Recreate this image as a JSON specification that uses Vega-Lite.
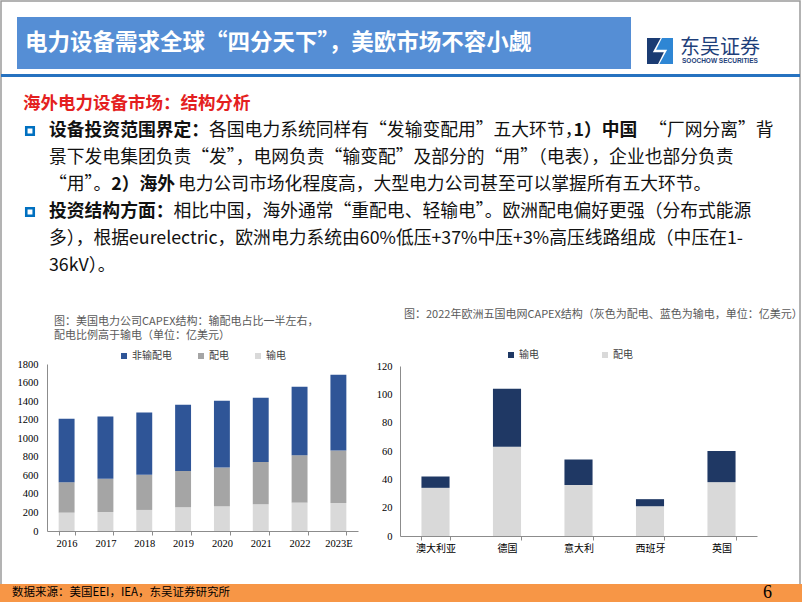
{
  "$schema": "https://vega.github.io/schema/vega-lite/v6.json",
  "width": 802,
  "height": 602,
  "autosize": {"type": "none"},
  "padding": 0,
  "background": "white",
  "config": {
    "view": {"stroke": null},
    "font": "Noto Sans CJK SC",
    "axis": {"grid": false}
  },
  "resolve": {
    "scale": {"x": "independent", "y": "independent", "color": "independent"},
    "axis": {"x": "independent", "y": "independent"},
    "legend": {"color": "independent"}
  },
  "layer": [
    {
      "data": {"values": [{"块": "页框"}]},
      "mark": {"type": "rect", "filled": false, "stroke": "#9A9A9A", "strokeWidth": 1.5},
      "encoding": {
        "x": {"field": "块", "type": "nominal", "scale": {"type": "band", "range": [1, 800], "paddingInner": 0, "paddingOuter": 0}, "axis": null},
        "y": {"field": "块", "type": "nominal", "scale": {"type": "band", "range": [1, 610], "paddingInner": 0, "paddingOuter": 0}, "axis": null}
      }
    },
    {
      "data": {"values": [{"块": "标题栏"}]},
      "mark": {"type": "rect", "color": "#558ED5"},
      "encoding": {
        "x": {"field": "块", "type": "nominal", "scale": {"type": "band", "range": [17, 631], "paddingInner": 0, "paddingOuter": 0}, "axis": null},
        "y": {"field": "块", "type": "nominal", "scale": {"type": "band", "range": [17, 69], "paddingInner": 0, "paddingOuter": 0}, "axis": null}
      }
    },
    {
      "data": {"values": [{"块": "分隔线"}]},
      "mark": {"type": "rect", "color": "#2672C0"},
      "encoding": {
        "x": {"field": "块", "type": "nominal", "scale": {"type": "band", "range": [1, 800], "paddingInner": 0, "paddingOuter": 0}, "axis": null},
        "y": {"field": "块", "type": "nominal", "scale": {"type": "band", "range": [74, 77], "paddingInner": 0, "paddingOuter": 0}, "axis": null}
      }
    },
    {
      "data": {"values": [{"块": "页脚"}]},
      "mark": {"type": "rect", "color": "#F79646"},
      "encoding": {
        "x": {"field": "块", "type": "nominal", "scale": {"type": "band", "range": [0, 802], "paddingInner": 0, "paddingOuter": 0}, "axis": null},
        "y": {"field": "块", "type": "nominal", "scale": {"type": "band", "range": [584, 602], "paddingInner": 0, "paddingOuter": 0}, "axis": null}
      }
    },
    {
      "data": {"values": [{"t": "电力设备需求全球“四分天下”，美欧市场不容小觑"}]},
      "mark": {"type": "text", "align": "left", "baseline": "middle", "fontSize": 22.5, "fontWeight": "bold", "color": "#FFFFFF"},
      "encoding": {
        "text": {"field": "t"},
        "x": {"datum": 0, "type": "quantitative", "scale": {"domain": [0, 1], "range": [25, 802]}, "axis": null},
        "y": {"datum": 0, "type": "quantitative", "scale": {"domain": [0, 1], "range": [43, 602]}, "axis": null}
      }
    },
    {
      "data": {"values": [{"部分": "深色"}, {"部分": "浅色"}]},
      "mark": {"type": "point", "size": 676, "filled": true, "opacity": 1, "strokeWidth": 0},
      "encoding": {
        "x": {"datum": 0, "type": "quantitative", "scale": {"domain": [0, 1], "range": [660, 802]}, "axis": null},
        "y": {"datum": 0, "type": "quantitative", "scale": {"domain": [0, 1], "range": [51, 602]}, "axis": null},
        "shape": {"field": "部分", "type": "nominal", "scale": {"domain": ["深色", "浅色"], "range": ["M-1,-1L0.05,-1L-0.55,0.1L0.3,0.1L-0.15,1L-1,1Z", "M1,1L-0.05,1L0.55,-0.1L-0.3,-0.1L0.15,-1L1,-1Z"]}, "legend": null},
        "color": {"field": "部分", "type": "nominal", "scale": {"domain": ["深色", "浅色"], "range": ["#1B3C73", "#2E86D4"]}, "legend": null}
      }
    },
    {
      "data": {"values": [{"t": "东吴证券"}]},
      "mark": {"type": "text", "align": "left", "baseline": "middle", "fontSize": 20, "color": "#1E3F7A"},
      "encoding": {
        "text": {"field": "t"},
        "x": {"datum": 0, "type": "quantitative", "scale": {"domain": [0, 1], "range": [680, 802]}, "axis": null},
        "y": {"datum": 0, "type": "quantitative", "scale": {"domain": [0, 1], "range": [48, 602]}, "axis": null}
      }
    },
    {
      "data": {"values": [{"t": "SOOCHOW SECURITIES"}]},
      "mark": {"type": "text", "align": "left", "baseline": "middle", "fontSize": 6.5, "fontWeight": "bold", "font": "Liberation Sans", "color": "#1E3F7A"},
      "encoding": {
        "text": {"field": "t"},
        "x": {"datum": 0, "type": "quantitative", "scale": {"domain": [0, 1], "range": [682, 802]}, "axis": null},
        "y": {"datum": 0, "type": "quantitative", "scale": {"domain": [0, 1], "range": [61, 602]}, "axis": null}
      }
    },
    {
      "data": {"values": [{"t": "海外电力设备市场：结构分析"}]},
      "mark": {"type": "text", "align": "left", "baseline": "middle", "fontSize": 17.5, "fontWeight": "bold", "color": "#E41F1F"},
      "encoding": {
        "text": {"field": "t"},
        "x": {"datum": 0, "type": "quantitative", "scale": {"domain": [0, 1], "range": [23, 802]}, "axis": null},
        "y": {"datum": 0, "type": "quantitative", "scale": {"domain": [0, 1], "range": [104, 602]}, "axis": null}
      }
    },
    {
      "data": {"values": [{"line": 1}, {"line": 4}]},
      "mark": {"type": "point", "shape": "square", "filled": false, "stroke": "#0070C0", "strokeWidth": 2.6, "size": 56, "opacity": 1},
      "encoding": {
        "x": {"datum": 0, "type": "quantitative", "scale": {"domain": [0, 1], "range": [30, 802]}, "axis": null},
        "y": {"field": "line", "type": "ordinal", "scale": {"type": "point", "domain": [1, 2, 3, 4, 5, 6], "range": [131, 266], "padding": 0}, "axis": null}
      }
    },
    {
      "data": {
        "values": [
          {"line": 1, "part": "正文", "text": "\u200B\u3000\u3000\u3000\u3000\u3000\u3000\u3000\u3000\u3000各国电力系统同样有“发输变配用”五大环节，\u2002\u3000\u3000\u3000\u2005“厂网分离”背"},
          {"line": 1, "part": "加粗", "text": "设备投资范围界定：\u3000\u3000\u3000\u3000\u3000\u3000\u3000\u3000\u3000\u3000\u3000\u3000\u3000\u3000\u3000\u3000\u3000\u3000\u3000\u3000\u30001）中国"},
          {"line": 2, "part": "正文", "text": "景下发电集团负责“发”，电网负责“输变配”及部分的“用”（电表），企业也部分负责"},
          {"line": 3, "part": "正文", "text": "\u200B“用”。\u2002\u3000\u3000\u3000\u2005电力公司市场化程度高，大型电力公司甚至可以掌握所有五大环节。"},
          {"line": 3, "part": "加粗", "text": "\u200B\u3000\u3000\u3000\u20022）海外"},
          {"line": 4, "part": "正文", "text": "\u200B\u3000\u3000\u3000\u3000\u3000\u3000\u3000相比中国，海外通常“重配电、轻输电”。欧洲配电偏好更强（分布式能源"},
          {"line": 4, "part": "加粗", "text": "投资结构方面："},
          {"line": 5, "part": "正文", "text": "多），根据eurelectric，欧洲电力系统由60%低压+37%中压+3%高压线路组成（中压在1-"},
          {"line": 6, "part": "正文", "text": "36kV）。"}
        ]
      },
      "encoding": {
        "x": {"datum": 0, "type": "quantitative", "scale": {"domain": [0, 1], "range": [49, 802]}, "axis": null},
        "y": {"field": "line", "type": "ordinal", "scale": {"type": "point", "domain": [1, 2, 3, 4, 5, 6], "range": [131, 266], "padding": 0}, "axis": null},
        "text": {"field": "text"}
      },
      "layer": [
        {
          "transform": [{"filter": "datum.part === '正文'"}],
          "mark": {"type": "text", "align": "left", "baseline": "middle", "fontSize": 17.8, "color": "#111111"}
        },
        {
          "transform": [{"filter": "datum.part === '加粗'"}],
          "mark": {"type": "text", "align": "left", "baseline": "middle", "fontSize": 17.8, "fontWeight": "bold", "color": "#111111"}
        }
      ]
    },
    {
      "data": {"values": [{"t": "图：美国电力公司CAPEX结构：输配电占比一半左右，\n配电比例高于输电（单位：亿美元）"}]},
      "mark": {"type": "text", "align": "left", "baseline": "middle", "fontSize": 11, "lineHeight": 14, "lineBreak": "\n", "color": "#595959"},
      "encoding": {
        "text": {"field": "t"},
        "x": {"datum": 0, "type": "quantitative", "scale": {"domain": [0, 1], "range": [54, 802]}, "axis": null},
        "y": {"datum": 0, "type": "quantitative", "scale": {"domain": [0, 1], "range": [322, 602]}, "axis": null}
      }
    },
    {
      "data": {"values": [{"t": "图：2022年欧洲五国电网CAPEX结构（灰色为配电、蓝色为输电，单位：亿美元）"}]},
      "mark": {"type": "text", "align": "left", "baseline": "middle", "fontSize": 11, "color": "#595959"},
      "encoding": {
        "text": {"field": "t"},
        "x": {"datum": 0, "type": "quantitative", "scale": {"domain": [0, 1], "range": [404, 802]}, "axis": null},
        "y": {"datum": 0, "type": "quantitative", "scale": {"domain": [0, 1], "range": [315, 602]}, "axis": null}
      }
    },
    {
      "data": {
        "values": [
          {"年份": "2016", "类型": "输电", "金额": 198}, {"年份": "2016", "类型": "配电", "金额": 328}, {"年份": "2016", "类型": "非输配电", "金额": 684},
          {"年份": "2017", "类型": "输电", "金额": 205}, {"年份": "2017", "类型": "配电", "金额": 357}, {"年份": "2017", "类型": "非输配电", "金额": 673},
          {"年份": "2018", "类型": "输电", "金额": 227}, {"年份": "2018", "类型": "配电", "金额": 378}, {"年份": "2018", "类型": "非输配电", "金额": 673},
          {"年份": "2019", "类型": "输电", "金额": 256}, {"年份": "2019", "类型": "配电", "金额": 392}, {"年份": "2019", "类型": "非输配电", "金额": 713},
          {"年份": "2020", "类型": "输电", "金额": 266}, {"年份": "2020", "类型": "配电", "金额": 418}, {"年份": "2020", "类型": "非输配电", "金额": 720},
          {"年份": "2021", "类型": "输电", "金额": 288}, {"年份": "2021", "类型": "配电", "金额": 457}, {"年份": "2021", "类型": "非输配电", "金额": 691},
          {"年份": "2022", "类型": "输电", "金额": 306}, {"年份": "2022", "类型": "配电", "金额": 511}, {"年份": "2022", "类型": "非输配电", "金额": 738},
          {"年份": "2023E", "类型": "输电", "金额": 302}, {"年份": "2023E", "类型": "配电", "金额": 566}, {"年份": "2023E", "类型": "非输配电", "金额": 817}
        ]
      },
      "mark": {"type": "bar"},
      "encoding": {
        "x": {
          "field": "年份", "type": "ordinal",
          "scale": {"type": "band", "range": [47, 358], "paddingInner": 0.59, "paddingOuter": 0.3},
          "axis": {"orient": "bottom", "offset": -71, "title": null, "labelAngle": 0, "labelFont": "Liberation Serif", "labelFontSize": 10.5, "labelColor": "#000000", "domainColor": "#8C8C8C", "tickColor": "#8C8C8C", "tickSize": 4, "tickBand": "extent", "labelPadding": 3}
        },
        "y": {
          "field": "金额", "type": "quantitative", "stack": "zero",
          "scale": {"domain": [0, 1800], "range": [531, 364]},
          "axis": {"orient": "left", "offset": -47, "title": null, "values": [0, 200, 400, 600, 800, 1000, 1200, 1400, 1600, 1800], "format": "d", "labelFont": "Liberation Serif", "labelFontSize": 10.5, "labelColor": "#000000", "domainColor": "#8C8C8C", "tickSize": 0, "labelPadding": 9}
        },
        "color": {
          "field": "类型", "type": "nominal",
          "scale": {"domain": ["非输配电", "配电", "输电"], "range": ["#2F5597", "#A5A5A5", "#D9D9D9"]},
          "legend": {"title": null, "orient": "none", "legendX": 119, "legendY": 351, "direction": "horizontal", "symbolType": "square", "symbolSize": 36, "symbolStrokeWidth": 0, "labelFontSize": 10, "labelColor": "#404040", "columnPadding": 24, "labelOffset": 3}
        },
        "order": {"field": "类型", "sort": "ascending"}
      }
    },
    {
      "data": {
        "values": [
          {"国家": "澳大利亚", "类型": "配电", "金额": 34}, {"国家": "澳大利亚", "类型": "输电", "金额": 8},
          {"国家": "德国", "类型": "配电", "金额": 63}, {"国家": "德国", "类型": "输电", "金额": 41},
          {"国家": "意大利", "类型": "配电", "金额": 36}, {"国家": "意大利", "类型": "输电", "金额": 18},
          {"国家": "西班牙", "类型": "配电", "金额": 21}, {"国家": "西班牙", "类型": "输电", "金额": 5},
          {"国家": "英国", "类型": "配电", "金额": 38}, {"国家": "英国", "类型": "输电", "金额": 22}
        ]
      },
      "mark": {"type": "bar"},
      "encoding": {
        "x": {
          "field": "国家", "type": "nominal",
          "sort": ["澳大利亚", "德国", "意大利", "西班牙", "英国"],
          "scale": {"type": "band", "range": [400, 757], "paddingInner": 0.607, "paddingOuter": 0.3},
          "axis": {"orient": "bottom", "offset": -66, "title": null, "labelAngle": 0, "labelFontSize": 10, "labelColor": "#000000", "domainColor": "#8C8C8C", "tickColor": "#8C8C8C", "tickSize": 4, "tickBand": "extent", "labelPadding": 3}
        },
        "y": {
          "field": "金额", "type": "quantitative", "stack": "zero",
          "scale": {"domain": [0, 120], "range": [536, 366]},
          "axis": {"orient": "left", "offset": -400, "title": null, "values": [0, 20, 40, 60, 80, 100, 120], "labelFont": "Liberation Serif", "labelFontSize": 10.5, "labelColor": "#000000", "domainColor": "#8C8C8C", "tickSize": 0, "labelPadding": 8}
        },
        "color": {
          "field": "类型", "type": "nominal",
          "scale": {"domain": ["输电", "配电"], "range": ["#1F3864", "#D9D9D9"]},
          "legend": {"title": null, "orient": "none", "legendX": 506, "legendY": 350, "direction": "horizontal", "symbolType": "square", "symbolSize": 36, "symbolStrokeWidth": 0, "labelFontSize": 10, "labelColor": "#404040", "columnPadding": 61, "labelOffset": 3}
        },
        "order": {"field": "类型", "sort": "descending"}
      }
    },
    {
      "data": {"values": [{"t": "数据来源：美国EEI，IEA，东吴证券研究所"}]},
      "mark": {"type": "text", "align": "left", "baseline": "middle", "fontSize": 11.5, "color": "#000000"},
      "encoding": {
        "text": {"field": "t"},
        "x": {"datum": 0, "type": "quantitative", "scale": {"domain": [0, 1], "range": [12, 802]}, "axis": null},
        "y": {"datum": 0, "type": "quantitative", "scale": {"domain": [0, 1], "range": [593, 602]}, "axis": null}
      }
    },
    {
      "data": {"values": [{"t": "6"}]},
      "mark": {"type": "text", "align": "right", "baseline": "middle", "fontSize": 18, "font": "Liberation Serif", "color": "#000000"},
      "encoding": {
        "text": {"field": "t"},
        "x": {"datum": 0, "type": "quantitative", "scale": {"domain": [0, 1], "range": [772, 802]}, "axis": null},
        "y": {"datum": 0, "type": "quantitative", "scale": {"domain": [0, 1], "range": [593, 602]}, "axis": null}
      }
    }
  ]
}
